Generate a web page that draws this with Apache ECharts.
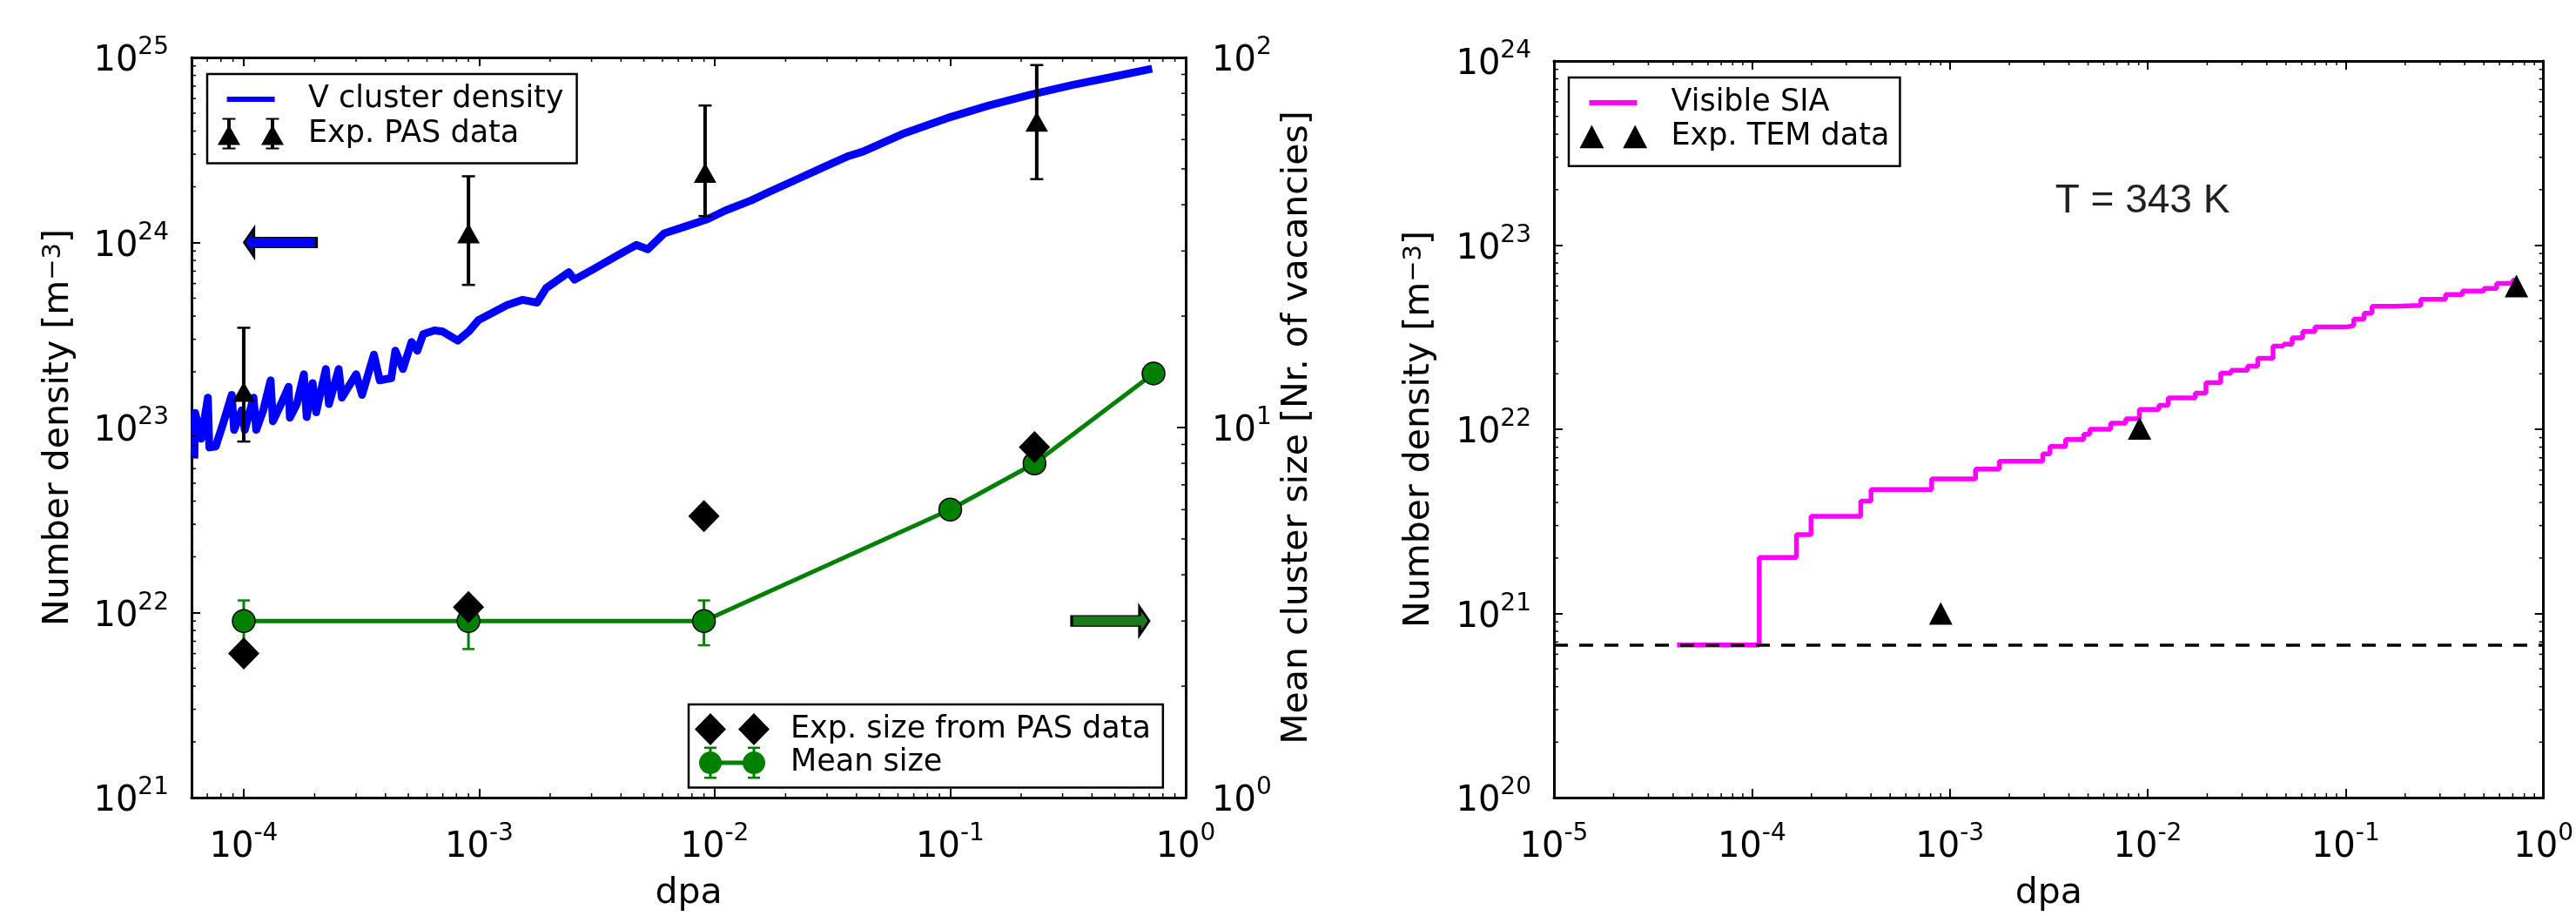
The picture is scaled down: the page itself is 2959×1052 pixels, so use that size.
<!DOCTYPE html>
<html>
<head>
<meta charset="utf-8">
<script src="https://cdn.jsdelivr.net/npm/echarts@6/dist/echarts.min.js"></script>
<style>
html, body { margin: 0; padding: 0; background: #fff; }
#chart { width: 2959px; height: 1052px; }
</style>
</head>
<body>
<div id="chart"></div>
<script>
// ---- left panel: vacancy clusters ----
const vDpa = [6.17e-5, 6.22e-5, 6.6e-5, 7.04e-5, 7.14e-5, 7.6e-5, 8.17e-5, 8.89e-5, 9.1e-5, 9.8e-5,
  1.01e-4, 1.1e-4, 1.13e-4, 1.21e-4, 1.3e-4, 1.33e-4, 1.44e-4, 1.55e-4, 1.57e-4, 1.68e-4,
  1.8e-4, 1.85e-4, 1.96e-4, 2.03e-4, 2.23e-4, 2.3e-4, 2.53e-4, 2.61e-4, 3.0e-4, 3.18e-4,
  3.57e-4, 3.78e-4, 4.23e-4, 4.4e-4, 4.74e-4, 5.16e-4, 5.46e-4, 5.78e-4, 6.45e-4, 7.0e-4,
  8.1e-4, 9.06e-4, 9.9e-4, 1.17e-3, 1.31e-3, 1.53e-3, 1.76e-3, 1.92e-3, 2.4e-3, 2.54e-3,
  3.03e-3, 3.79e-3, 4.64e-3, 5.2e-3, 6.1e-3, 7.5e-3, 9.35e-3, 1.11e-2, 1.43e-2, 1.66e-2,
  2.19e-2, 2.89e-2, 3.72e-2, 4.26e-2, 6.4e-2, 9.7e-2, 0.146, 0.22, 0.33, 0.5, 0.72];
const vDensity = [6.8e22, 1.2e23, 8.7e22, 1.45e23, 7.8e22, 7.9e22, 1.05e23, 1.5e23, 9.7e22, 1.24e23,
  9.7e22, 1.45e23, 9.7e22, 1.24e23, 1.8e23, 1.08e23, 1.34e23, 1.66e23, 1.13e23, 1.34e23,
  1.94e23, 1.14e23, 1.74e23, 1.21e23, 2.07e23, 1.34e23, 2.07e23, 1.45e23, 1.94e23, 1.5e23,
  2.48e23, 1.8e23, 1.85e23, 2.6e23, 2.07e23, 2.9e23, 2.6e23, 3.2e23, 3.35e23, 3.3e23,
  2.95e23, 3.32e23, 3.8e23, 4.25e23, 4.58e23, 4.9e23, 4.73e23, 5.66e23, 6.9e23, 6.3e23,
  7.14e23, 8.4e23, 9.7e23, 9.2e23, 1.12e24, 1.22e24, 1.34e24, 1.49e24, 1.69e24, 1.85e24,
  2.17e24, 2.55e24, 2.94e24, 3.1e24, 3.9e24, 4.7e24, 5.5e24, 6.3e24, 7.1e24, 7.9e24, 8.7e24];

const pasDpa = [1e-4, 9e-4, 9.1e-3, 0.233];
const pasDensity = [1.56e23, 1.12e24, 2.38e24, 4.5e24];
const pasLow = [8.4e22, 5.9e23, 1.39e24, 2.2e24];
const pasHigh = [3.46e23, 2.28e24, 5.5e24, 9.1e24];

const sizeDpa = [1e-4, 9e-4, 9e-3, 0.228];
const sizeExp = [2.45, 3.27, 5.76, 8.85];

const meanDpa = [1e-4, 9e-4, 9e-3, 0.1, 0.228, 0.73];
const meanSize = [3, 3, 3, 6, 8, 14];
const meanLow = [2.55, 2.52, 2.58];
const meanHigh = [3.41, 3.41, 3.41];

// where the two arrows sit (dpa, value on their own axis)
const arrowDensityAt = [1.43e-4, 1e24];
const arrowSizeAt = [0.479, 3];

// ---- right panel: SIA loops ----
const siaDpa = [4.19e-5, 1.09e-4, 1.68e-4, 1.99e-4, 3.55e-4, 4.0e-4, 8.1e-4, 1.35e-3, 1.78e-3, 2.95e-3,
  3.21e-3, 3.85e-3, 4.75e-3, 5.1e-3, 6.5e-3, 7.76e-3, 9.08e-3, 1.14e-2, 1.27e-2, 1.74e-2,
  1.97e-2, 2.34e-2, 2.64e-2, 3.2e-2, 3.6e-2, 4.3e-2, 4.86e-2, 5.37e-2, 6.07e-2, 7.0e-2,
  0.101, 0.11, 0.124, 0.136, 0.178, 0.24, 0.32, 0.39, 0.5, 0.58, 0.7, 0.73];
const siaDensity = [6.73e20, 2.01e21, 2.68e21, 3.37e21, 4.07e21, 4.7e21, 5.37e21, 6.07e21, 6.7e21, 7.36e21,
  8.07e21, 8.81e21, 9.4e21, 1.0e22, 1.08e22, 1.14e22, 1.28e22, 1.35e22, 1.48e22, 1.57e22,
  1.79e22, 2.02e22, 2.09e22, 2.2e22, 2.43e22, 2.83e22, 2.9e22, 3.14e22, 3.39e22, 3.59e22,
  3.66e22, 3.96e22, 4.27e22, 4.65e22, 4.7e22, 5.08e22, 5.39e22, 5.63e22, 5.82e22, 6.2e22,
  6.46e22, 6.46e22];
const temDpa = [9e-4, 9.1e-3, 0.73];
const temDensity = [1.0e21, 1.01e22, 6.0e22];
const visibleLimit = 6.73e20;

const FONT = "DejaVu Sans";
const zip = (a, b) => a.map((v, i) => [v, b[i]]);

// ---- little path helpers for legend icons ----
function rect(x, y, w, h) { return `M${x},${y} L${x + w},${y} L${x + w},${y + h} L${x},${y + h} Z `; }
function tri(cx, cy, w, h) { return `M${cx - w / 2},${cy + h / 2} L${cx},${cy - h / 2} L${cx + w / 2},${cy + h / 2} Z `; }
function diamond(cx, cy, w, h) { return `M${cx},${cy - h / 2} L${cx + w / 2},${cy} L${cx},${cy + h / 2} L${cx - w / 2},${cy} Z `; }
function circle(cx, cy, r) { return `M${cx - r},${cy} A${r},${r} 0 1,1 ${cx + r},${cy} A${r},${r} 0 1,1 ${cx - r},${cy} Z `; }
// tiny specks pin the bounding box so icons are not rescaled
function box(w, h) { return rect(0, 0, 0.1, 0.1) + rect(w - 0.1, h - 0.1, 0.1, 0.1); }
function errMark(cx, h, bw, cw, ct) { return rect(cx - bw / 2, 0, bw, h) + rect(cx - cw / 2, 0, cw, ct) + rect(cx - cw / 2, h - ct, cw, ct); }

const iconV = "path://" + box(99, 36) + rect(10.6, 15, 55, 6);
const iconPAS = "path://" + box(99, 36) + errMark(13, 36, 4, 15, 2) + errMark(63, 36, 4, 15, 2) + tri(13, 19.4, 26, 23) + tri(63, 19.4, 26, 23);
const iconSize = "path://" + box(105, 37) + diamond(18, 18.5, 36, 37) + diamond(68, 18.5, 36, 37);
const iconMean = "path://" + box(105, 37) + errMark(18, 37, 3, 14, 2.5) + errMark(68, 37, 3, 14, 2.5) + rect(18, 16, 50, 5) + circle(18, 18.5, 13) + circle(68, 18.5, 13);
const iconSIA = "path://" + box(100, 36) + rect(11, 15, 55, 6);
const iconTEM = "path://" + box(100, 36) + tri(13.5, 18, 28, 27) + tri(63.5, 18, 28, 27);

function powLabel(v) {
  const e = Math.log10(v);
  const r = Math.round(e);
  if (Math.abs(e - r) > 1e-6) return "";
  return "{m|10}{s|" + r + "}";
}
const tickRich = {
  m: { fontFamily: FONT, fontSize: 40, color: "#000", padding: [10, 0, 0, 0] },
  s: { fontFamily: FONT, fontSize: 28, color: "#000", verticalAlign: "top" },
};

function logAxis(opts) {
  const labels = opts.labels;
  return {
    type: "log",
    logBase: 10,
    gridIndex: opts.grid,
    position: opts.position,
    min: opts.min,
    max: opts.max,
    axisLine: { show: true, onZero: false, lineStyle: { color: "#000", width: 3 } },
    axisTick: { show: true, inside: true, length: 10, lineStyle: { color: "#000", width: 2 } },
    axisLabel: labels
      ? { show: true, margin: opts.margin, formatter: powLabel, rich: tickRich, showMinLabel: true, showMaxLabel: true }
      : { show: false },
    splitLine: { show: false },
    name: opts.name || "",
    nameLocation: "middle",
    nameGap: opts.nameGap || 0,
    nameTextStyle: {
      fontFamily: FONT, fontSize: 41, color: "#000",
      rich: { s: { fontFamily: FONT, fontSize: 29, color: "#000", verticalAlign: "top", padding: [0, 0, 8, 0] } },
    },
  };
}

function minorValues(lo, hi, min, max) {
  const out = [];
  for (let e = lo; e < hi; e++) {
    for (let m = 2; m <= 9; m++) {
      const v = m * Math.pow(10, e);
      if (v >= min && v <= max) out.push(v);
    }
  }
  return out;
}

function minorTicks(xi, yi, dim, values, ref, sides) {
  return {
    type: "custom", silent: true, xAxisIndex: xi, yAxisIndex: yi, z: 6, clip: false,
    data: values.map((v) => (dim === "x" ? [v, ref] : [ref, v])),
    renderItem(params, api) {
      const cs = params.coordSys;
      const p = api.coord([api.value(0), api.value(1)]);
      const st = { stroke: "#000", lineWidth: 1.5 };
      const kids = [];
      sides.forEach((side) => {
        let shape;
        if (side === "bottom") shape = { x1: p[0], y1: cs.y + cs.height, x2: p[0], y2: cs.y + cs.height - 5 };
        if (side === "top") shape = { x1: p[0], y1: cs.y, x2: p[0], y2: cs.y + 5 };
        if (side === "left") shape = { x1: cs.x, y1: p[1], x2: cs.x + 5, y2: p[1] };
        if (side === "right") shape = { x1: cs.x + cs.width, y1: p[1], x2: cs.x + cs.width - 5, y2: p[1] };
        kids.push({ type: "line", shape, style: st });
      });
      return { type: "group", children: kids };
    },
  };
}

function errorBars(xi, yi, xs, lo, hi, color, width, cap, z) {
  return {
    type: "custom", silent: true, xAxisIndex: xi, yAxisIndex: yi, z,
    encode: { x: 0, y: [1, 2] },
    data: xs.map((x, i) => [x, lo[i], hi[i]]),
    renderItem(params, api) {
      const a = api.coord([api.value(0), api.value(1)]);
      const b = api.coord([api.value(0), api.value(2)]);
      const capStyle = { stroke: color, lineWidth: 2.5 };
      return {
        type: "group",
        children: [
          { type: "line", shape: { x1: a[0], y1: a[1], x2: b[0], y2: b[1] }, style: { stroke: color, lineWidth: width } },
          { type: "line", shape: { x1: a[0] - cap / 2, y1: a[1], x2: a[0] + cap / 2, y2: a[1] }, style: capStyle },
          { type: "line", shape: { x1: b[0] - cap / 2, y1: b[1], x2: b[0] + cap / 2, y2: b[1] }, style: capStyle },
        ],
      };
    },
  };
}

const legendBase = {
  orient: "vertical",
  selectedMode: false,
  backgroundColor: "#fff",
  borderColor: "#000",
  borderWidth: 2.5,
  borderRadius: 0,
  itemHeight: 36,
  textStyle: { fontFamily: FONT, fontSize: 35, color: "#000" },
};

const chart = echarts.init(document.getElementById("chart"));

chart.setOption({
  animation: false,
  backgroundColor: "#fff",
  grid: [
    { left: 220, top: 66, width: 1142, height: 856 },
    { left: 1785, top: 70, width: 1137, height: 853 },
  ],
  title: {
    text: "T = 343 K",
    left: 2456,
    textAlign: "center",
    top: 203,
    textStyle: { fontFamily: "Liberation Sans", fontSize: 46, fontWeight: "normal", color: "#231f20" },
  },
  legend: [
    Object.assign({}, legendBase, {
      left: 238, top: 85, padding: [11, 15, 16, 12], itemWidth: 99, itemGap: 3.6,
      data: [
        { name: "V cluster density", icon: iconV, itemStyle: { color: "#0000ff", borderWidth: 0, opacity: 1 } },
        { name: "Exp. PAS data", icon: iconPAS, itemStyle: { color: "#000", borderWidth: 0, opacity: 1 } },
      ],
    }),
    Object.assign({}, legendBase, {
      left: 791, top: 809, padding: [10, 14, 10, 7], itemWidth: 105, itemHeight: 37, itemGap: 1.6,
      data: [
        { name: "Exp. size from PAS data", icon: iconSize, itemStyle: { color: "#000", borderWidth: 0, opacity: 1 } },
        { name: "Mean size", icon: iconMean, itemStyle: { color: "#008000", borderWidth: 0, opacity: 1 } },
      ],
    }),
    Object.assign({}, legendBase, {
      left: 1802, top: 89, padding: [11, 12, 16, 12.5], itemWidth: 100, itemGap: 3,
      data: [
        { name: "Visible SIA", icon: iconSIA, itemStyle: { color: "#ff00ff", borderWidth: 0, opacity: 1 } },
        { name: "Exp. TEM data", icon: iconTEM, itemStyle: { color: "#000", borderWidth: 0, opacity: 1 } },
      ],
    }),
  ],
  xAxis: [
    logAxis({ grid: 0, position: "bottom", min: 6e-5, max: 1, labels: true, margin: 28, name: "dpa", nameGap: 90 }),
    logAxis({ grid: 0, position: "top", min: 6e-5, max: 1 }),
    logAxis({ grid: 1, position: "bottom", min: 1e-5, max: 1, labels: true, margin: 28, name: "dpa", nameGap: 90 }),
    logAxis({ grid: 1, position: "top", min: 1e-5, max: 1 }),
  ],
  yAxis: [
    logAxis({ grid: 0, position: "left", min: 1e21, max: 1e25, labels: true, margin: 26, name: "Number density [m{s|\u22123}]", nameGap: 132 }),
    logAxis({ grid: 0, position: "right", min: 1, max: 100, labels: true, margin: 30, name: "Mean cluster size [Nr. of vacancies]", nameGap: 108 }),
    logAxis({ grid: 1, position: "left", min: 1e20, max: 1e24, labels: true, margin: 26, name: "Number density [m{s|\u22123}]", nameGap: 134 }),
    logAxis({ grid: 1, position: "right", min: 1e20, max: 1e24 }),
  ],
  series: [
    // left panel
    {
      name: "V cluster density", type: "line", xAxisIndex: 0, yAxisIndex: 0, z: 2,
      data: zip(vDpa, vDensity), showSymbol: false, symbol: "none",
      lineStyle: { color: "#0000ff", width: 9, join: "round" }, itemStyle: { color: "#0000ff" },
    },
    errorBars(0, 0, pasDpa, pasLow, pasHigh, "#000", 4, 15, 3),
    {
      name: "Exp. PAS data", type: "scatter", xAxisIndex: 0, yAxisIndex: 0, z: 4,
      data: zip(pasDpa, pasDensity), symbol: "triangle", symbolSize: [26, 23],
      itemStyle: { color: "#000", opacity: 1 },
    },
    errorBars(0, 1, meanDpa.slice(0, 3), meanLow, meanHigh, "#008000", 3, 14, 3),
    {
      name: "Mean size", type: "line", xAxisIndex: 0, yAxisIndex: 1, z: 4,
      data: zip(meanDpa, meanSize), symbol: "circle", symbolSize: 26,
      lineStyle: { color: "#008000", width: 5 },
      itemStyle: { color: "#008000", borderColor: "#000", borderWidth: 1.5, opacity: 1 },
    },
    {
      name: "Exp. size from PAS data", type: "scatter", xAxisIndex: 0, yAxisIndex: 1, z: 5,
      data: zip(sizeDpa, sizeExp), symbol: "diamond", symbolSize: [36, 37],
      itemStyle: { color: "#000", opacity: 1 },
    },
    {
      name: "density arrow", type: "scatter", xAxisIndex: 0, yAxisIndex: 0, z: 5, silent: true,
      data: [arrowDensityAt], symbol: "path://M0,16 L11,0 L11,10 L83,10 L83,22 L11,22 L11,32 Z", symbolSize: [83, 32],
      itemStyle: { color: "#0000ff", borderColor: "#000", borderWidth: 2, opacity: 1 },
    },
    {
      name: "size arrow", type: "scatter", xAxisIndex: 0, yAxisIndex: 1, z: 5, silent: true,
      data: [arrowSizeAt], symbol: "path://M89,16 L78,32 L78,22 L0,22 L0,10 L78,10 L78,0 Z", symbolSize: [89, 32],
      itemStyle: { color: "#1b7a1b", borderColor: "#000", borderWidth: 2, opacity: 1 },
    },
    minorTicks(0, 0, "x", minorValues(-5, 0, 6e-5, 1), 1e22, ["bottom", "top"]),
    minorTicks(0, 0, "y", minorValues(21, 25, 1e21, 1e25), 1e-2, ["left"]),
    minorTicks(0, 1, "y", minorValues(0, 2, 1, 100), 1e-2, ["right"]),
    // right panel
    {
      name: "Visible SIA", type: "line", step: "end", xAxisIndex: 2, yAxisIndex: 2, z: 3,
      data: zip(siaDpa, siaDensity), showSymbol: false, symbol: "none",
      lineStyle: { color: "#ff00ff", width: 5.5 }, itemStyle: { color: "#ff00ff" },
      markLine: {
        silent: true, symbol: "none", label: { show: false },
        lineStyle: { color: "#000", width: 3.5, type: [16, 13] },
        data: [{ yAxis: visibleLimit }],
      },
    },
    {
      name: "Exp. TEM data", type: "scatter", xAxisIndex: 2, yAxisIndex: 2, z: 4,
      data: zip(temDpa, temDensity), symbol: "triangle", symbolSize: [27, 26],
      itemStyle: { color: "#000", opacity: 1 },
    },
    minorTicks(2, 2, "x", minorValues(-5, 0, 1e-5, 1), 1e22, ["bottom", "top"]),
    minorTicks(2, 2, "y", minorValues(20, 24, 1e20, 1e24), 1e-2, ["left", "right"]),
  ],
});

window.addEventListener("resize", () => chart.resize());
</script>
</body>
</html>
